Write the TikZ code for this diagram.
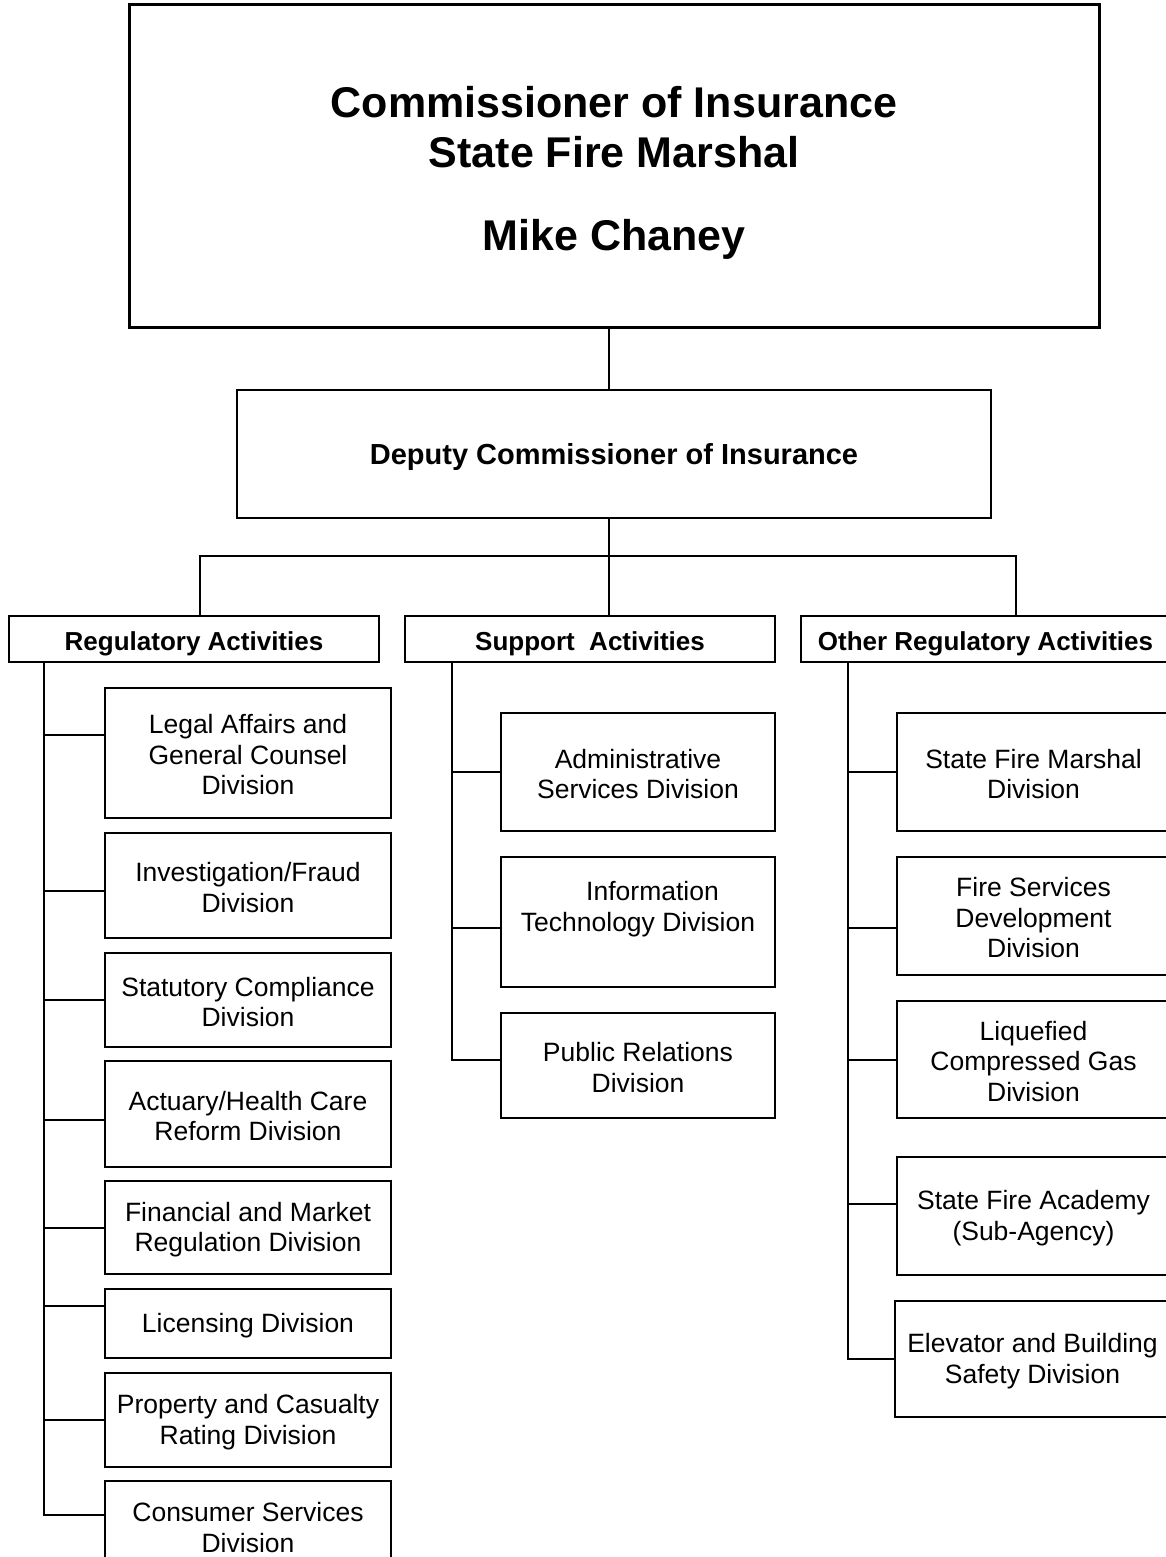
\documentclass[tikz,border=0pt]{standalone}
\usepackage{fontspec}
\setmainfont{Liberation Sans}
\begin{document}
\begin{tikzpicture}[x=1pt,y=-1pt,
  box/.style={draw=black, line width=2.2pt, inner sep=0pt, outer sep=0pt},
  txt/.style={inner sep=0pt, align=center, font=\fontsize{26.5}{30.5}\selectfont},
  headtxt/.style={inner sep=0pt, font=\fontsize{26}{30}\selectfont\bfseries},
  deptxt/.style={inner sep=0pt, font=\fontsize{29}{34}\selectfont\bfseries},
  bigt/.style={inner sep=0pt, font=\fontsize{43}{50}\selectfont\bfseries},
  conn/.style={draw=black, line width=2pt}]
\def\tdy{-2pt}
\newcommand\obox[7][txt]{\node[box,minimum width={#5pt-#3pt},minimum height={#6pt-#4pt}] (#2) at ({(#3+#5)/2},{(#4+#6)/2}) {};
  \node[#1] (#2-t) at ([yshift=\tdy]#2.center) {#7};}
\clip (0,0) rectangle (1166,1557);
\fill[white] (0,0) rectangle (1166,1557);

% top
\node[box, line width=3pt, minimum width=970pt, minimum height=322pt] (top) at (614,166) {};
\node[bigt, anchor=base] (t1) at (614,117.5) {Commissioner of Insurance};
\node[bigt, anchor=base] (t2) at (614,167.5) {State Fire Marshal};
\node[bigt, anchor=base] (t3) at (614,250.5) {Mike Chaney};

\def\tdy{-3pt}
\obox[deptxt]{dep}{237}{390}{991}{518}{Deputy Commissioner of Insurance}

% headers
\def\tdy{-5pt}
\obox[headtxt]{reg}{9}{616}{379}{662}{Regulatory Activities}
\obox[headtxt]{sup}{405}{616}{775}{662}{Support\ \ Activities}
\obox[headtxt]{oth}{801}{616}{1170}{662}{Other Regulatory Activities}

% regulatory
\def\tdy{-2pt}
\obox{r1}{105}{688}{391}{818}{Legal Affairs and\\General Counsel\\Division}
\obox{r2}{105}{833}{391}{938}{Investigation/Fraud\\Division}
\obox{r3}{105}{953}{391}{1047}{Statutory Compliance\\Division}
\obox{r4}{105}{1061}{391}{1167}{Actuary/Health Care\\Reform Division}
\obox{r5}{105}{1181}{391}{1274}{Financial and Market\\Regulation Division}
\obox{r6}{105}{1289}{391}{1358}{Licensing Division}
\obox{r7}{105}{1373}{391}{1467}{Property and Casualty\\Rating Division}
\obox{r8}{105}{1481}{391}{1570}{Consumer Services\\Division}

% support
\obox{s1}{501}{713}{775}{831}{Administrative\\Services Division}
\def\tdy{13pt}
\obox{s2}{501}{857}{775}{987}{\hspace*{29pt}Information\\Technology Division}
\def\tdy{-2pt}
\obox{s3}{501}{1013}{775}{1118}{Public Relations\\Division}

% other
\obox{o1}{897}{713}{1170}{831}{State Fire Marshal\\Division}
\obox{o2}{897}{857}{1170}{975}{Fire Services\\Development\\Division}
\obox{o3}{897}{1001}{1170}{1118}{Liquefied\\Compressed Gas\\Division}
\obox{o4}{897}{1157}{1170}{1275}{State Fire Academy\\(Sub-Agency)}
\obox{o5}{895}{1301}{1170}{1417}{Elevator and Building\\Safety Division}

% connectors top
\draw[conn] ([xshift=-5pt]top.south) -- ([xshift=-5pt]dep.north);
\draw[conn] ([xshift=-5pt]dep.south) -- ([xshift=19pt]sup.north);
\draw[conn] ([xshift=6pt]reg.north) -- ++(0,-60) -| ([xshift=30.5pt]oth.north);

% spines
\coordinate (rtop) at ([xshift=35pt]reg.south west);
\coordinate (stop) at ([xshift=47pt]sup.south west);
\coordinate (otop) at ([xshift=47pt]oth.south west);

\draw[conn] ([yshift=18pt]r1.west) -| (rtop);
\draw[conn] ([yshift=-5.5pt]r2.west) -| (rtop);
\draw[conn] (r3.west) -| (rtop);
\draw[conn] ([yshift=-6pt]r4.west) -| (rtop);
\draw[conn] (r5.west) -| (rtop);
\draw[conn] ([yshift=17.5pt]r6.west) -| (rtop);
\draw[conn] (r7.west) -| (rtop);
\draw[conn] ([yshift=10.5pt]r8.west) -| (rtop);

\draw[conn] (s1.west) -| (stop);
\draw[conn] ([yshift=-6pt]s2.west) -| (stop);
\draw[conn] ([yshift=5.5pt]s3.west) -| (stop);

\draw[conn] (o1.west) -| (otop);
\draw[conn] ([yshift=-12pt]o2.west) -| (otop);
\draw[conn] (o3.west) -| (otop);
\draw[conn] ([yshift=12pt]o4.west) -| (otop);
\draw[conn] (o5.west) -| (otop);
\end{tikzpicture}
\end{document}
